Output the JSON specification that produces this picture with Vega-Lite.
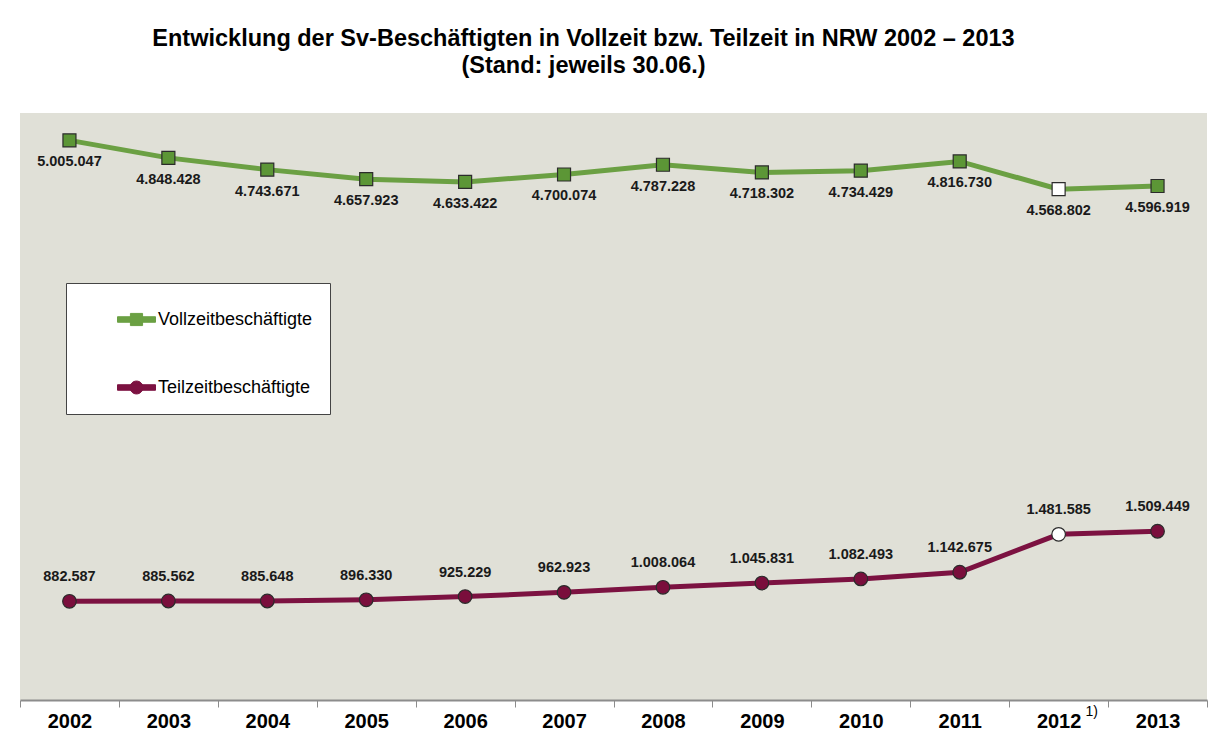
{
  "$schema": "https://vega.github.io/schema/vega-lite/v6.json",
  "autosize": {"type": "none"},
  "padding": {"left": 20, "top": 113, "right": 6, "bottom": 49},
  "width": 1187,
  "height": 587,
  "background": "#ffffff",
  "config": {
    "view": {"fill": "#e0e0d7", "stroke": null},
    "locale": {"number": {"decimal": ",", "thousands": ".", "grouping": [3], "currency": ["", " €"]}},
    "font": "Liberation Sans"
  },
  "title": {
    "text": ["Entwicklung der Sv-Beschäftigten in Vollzeit bzw. Teilzeit in NRW 2002 – 2013", "(Stand: jeweils 30.06.)"],
    "fontSize": 23.5,
    "font": "Liberation Sans",
    "fontWeight": "bold",
    "color": "#000000",
    "anchor": "middle",
    "dx": -30,
    "offset": 36,
    "lineHeight": 27
  },
  "data": {
    "values": [
      {"Jahr": "2002", "Serie": "Vollzeitbeschäftigte", "Wert": 5005047},
      {"Jahr": "2003", "Serie": "Vollzeitbeschäftigte", "Wert": 4848428},
      {"Jahr": "2004", "Serie": "Vollzeitbeschäftigte", "Wert": 4743671},
      {"Jahr": "2005", "Serie": "Vollzeitbeschäftigte", "Wert": 4657923},
      {"Jahr": "2006", "Serie": "Vollzeitbeschäftigte", "Wert": 4633422},
      {"Jahr": "2007", "Serie": "Vollzeitbeschäftigte", "Wert": 4700074},
      {"Jahr": "2008", "Serie": "Vollzeitbeschäftigte", "Wert": 4787228},
      {"Jahr": "2009", "Serie": "Vollzeitbeschäftigte", "Wert": 4718302},
      {"Jahr": "2010", "Serie": "Vollzeitbeschäftigte", "Wert": 4734429},
      {"Jahr": "2011", "Serie": "Vollzeitbeschäftigte", "Wert": 4816730},
      {"Jahr": "2012", "Serie": "Vollzeitbeschäftigte", "Wert": 4568802},
      {"Jahr": "2013", "Serie": "Vollzeitbeschäftigte", "Wert": 4596919},
      {"Jahr": "2002", "Serie": "Teilzeitbeschäftigte", "Wert": 882587},
      {"Jahr": "2003", "Serie": "Teilzeitbeschäftigte", "Wert": 885562},
      {"Jahr": "2004", "Serie": "Teilzeitbeschäftigte", "Wert": 885648},
      {"Jahr": "2005", "Serie": "Teilzeitbeschäftigte", "Wert": 896330},
      {"Jahr": "2006", "Serie": "Teilzeitbeschäftigte", "Wert": 925229},
      {"Jahr": "2007", "Serie": "Teilzeitbeschäftigte", "Wert": 962923},
      {"Jahr": "2008", "Serie": "Teilzeitbeschäftigte", "Wert": 1008064},
      {"Jahr": "2009", "Serie": "Teilzeitbeschäftigte", "Wert": 1045831},
      {"Jahr": "2010", "Serie": "Teilzeitbeschäftigte", "Wert": 1082493},
      {"Jahr": "2011", "Serie": "Teilzeitbeschäftigte", "Wert": 1142675},
      {"Jahr": "2012", "Serie": "Teilzeitbeschäftigte", "Wert": 1481585},
      {"Jahr": "2013", "Serie": "Teilzeitbeschäftigte", "Wert": 1509449}
    ]
  },
  "encoding": {
    "x": {
      "field": "Jahr",
      "type": "ordinal",
      "scale": {"type": "band", "paddingInner": 0, "paddingOuter": 0},
      "axis": {
        "title": null,
        "labelAngle": 0,
        "labelFontSize": 20,
        "labelFontWeight": "bold",
        "labelFont": "Liberation Sans",
        "labelColor": "#000000",
        "labelPadding": 4,
        "domainColor": "#8c8c8c",
        "domainWidth": 2,
        "tickColor": "#8c8c8c",
        "tickSize": 7,
        "tickBand": "extent",
        "grid": false
      }
    },
    "y": {
      "field": "Wert",
      "type": "quantitative",
      "scale": {"domain": [0, 5250000], "nice": false, "zero": true},
      "axis": null
    }
  },
  "layer": [
    {
      "mark": {"type": "line", "strokeWidth": 5, "interpolate": "linear"},
      "encoding": {
        "color": {
          "field": "Serie",
          "type": "nominal",
          "scale": {"domain": ["Vollzeitbeschäftigte", "Teilzeitbeschäftigte"], "range": ["#6ba043", "#7c1241"]},
          "legend": {
            "orient": "none",
            "legendX": 46,
            "legendY": 170,
            "title": null,
            "padding": 17,
            "rowPadding": 39,
            "symbolOffset": 34,
            "labelOffset": 2,
            "labelFontSize": 18,
            "labelFont": "Liberation Sans",
            "labelColor": "#000000",
            "labelLimit": 400,
            "labelExpr": "datum.label + '\u00a0\u00a0\u00a0\u00a0'",
            "fillColor": "#ffffff",
            "strokeColor": "#444444",
            "symbolSize": 1444,
            "symbolType": "M-1,-0.145H1V0.145H-1Z M-0.32,-0.32H0.32V0.32H-0.32Z",
            "encode": {
              "symbols": {
                "update": {
                  "shape": {"signal": "datum.value === 'Vollzeitbeschäftigte' ? 'M-1,-0.145H1V0.145H-1Z M-0.32,-0.32H0.32V0.32H-0.32Z' : 'M-1,-0.145H1V0.145H-1Z M0.34,0A0.34,0.34,0,1,1,-0.34,0A0.34,0.34,0,1,1,0.34,0Z'"},
                  "fill": {"signal": "datum.value === 'Vollzeitbeschäftigte' ? '#6ba043' : '#7c1241'"},
                  "stroke": {"signal": "datum.value === 'Vollzeitbeschäftigte' ? '#4f7f2c' : '#4a0a26'"},
                  "strokeWidth": {"value": 1},
                  "size": {"value": 1444},
                  "opacity": {"value": 1},
                  "fillOpacity": {"value": 1}
                }
              }
            }
          }
        }
      }
    },
    {
      "transform": [{"filter": "datum.Serie === 'Vollzeitbeschäftigte'"}],
      "mark": {"type": "point", "shape": "square", "size": 169, "filled": true, "opacity": 1, "stroke": "#2b2b2b", "strokeWidth": 1.2},
      "encoding": {
        "fill": {
          "condition": {"test": "datum.Jahr === '2012'", "value": "#ffffff"},
          "value": "#5c9636"
        }
      }
    },
    {
      "transform": [{"filter": "datum.Serie === 'Teilzeitbeschäftigte'"}],
      "mark": {"type": "point", "shape": "circle", "size": 185, "filled": true, "opacity": 1, "stroke": "#2b2b2b", "strokeWidth": 1.2},
      "encoding": {
        "fill": {
          "condition": {"test": "datum.Jahr === '2012'", "value": "#ffffff"},
          "value": "#7a0e3c"
        }
      }
    },
    {
      "transform": [{"filter": "datum.Serie === 'Vollzeitbeschäftigte'"}],
      "mark": {"type": "text", "dy": 22, "fontSize": 14.5, "fontWeight": "bold", "font": "Liberation Sans", "color": "#1a1a1a", "baseline": "middle"},
      "encoding": {"text": {"field": "Wert", "type": "quantitative", "format": ",d"}}
    },
    {
      "transform": [{"filter": "datum.Serie === 'Teilzeitbeschäftigte'"}],
      "mark": {"type": "text", "dy": -24, "fontSize": 14.5, "fontWeight": "bold", "font": "Liberation Sans", "color": "#1a1a1a", "baseline": "middle"},
      "encoding": {"text": {"field": "Wert", "type": "quantitative", "format": ",d"}}
    },
    {
      "data": {"values": [{"Jahr": "2012", "Wert": 0, "Hinweis": "1)"}]},
      "mark": {"type": "text", "dx": 33, "dy": 12, "fontSize": 14, "font": "Liberation Sans", "color": "#000000", "baseline": "middle"},
      "encoding": {
        "text": {"field": "Hinweis", "type": "nominal"}
      }
    }
  ]
}
